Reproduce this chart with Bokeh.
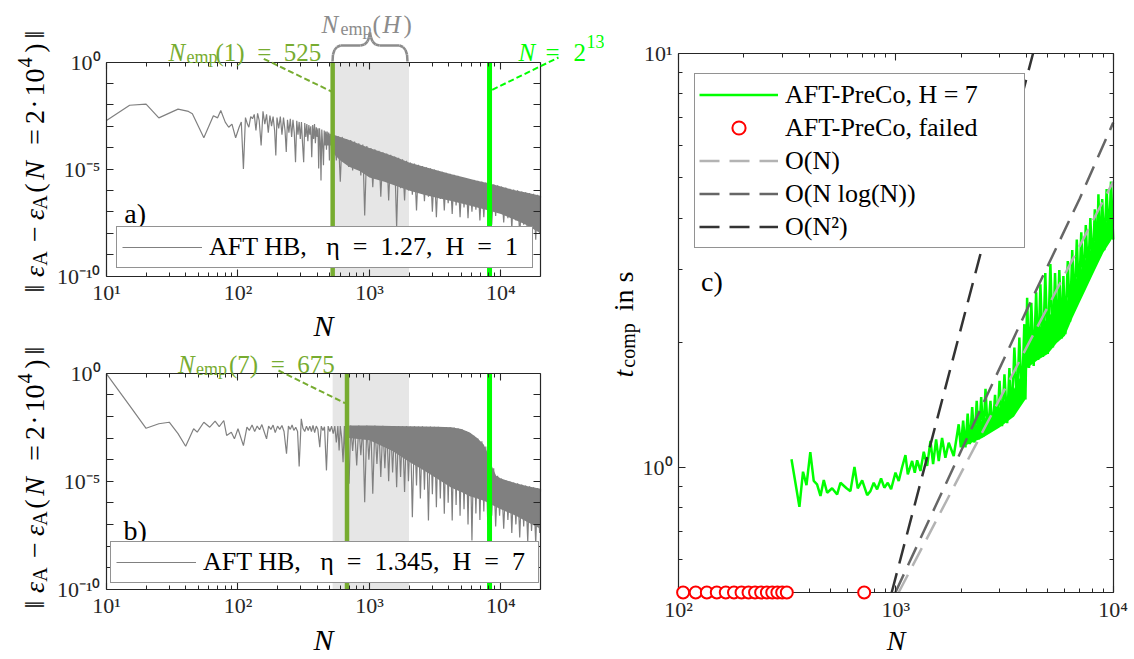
import math
from bokeh.plotting import figure
from bokeh.models import (Range1d, LogAxis, FixedTicker, CustomJSTickFormatter, Label,
                          BoxAnnotation, Arrow, Legend, LegendItem, ColumnDataSource)
from bokeh.layouts import row, column
from bokeh.embed import file_html
from bokeh.resources import INLINE

# ---------------------------------------------------------------- data
# panel a) : AFT HB, eta = 1.27, H = 1   (values given as log10 of the error)
a_N = [10, 15, 20, 25, 35, 42, 45, 55, 65, 70, 74, 80, 85, 90, 96, 102, 106, 110, 114, 118,
       121, 125, 129, 133, 137, 141, 145,
       150, 155, 160, 165, 170, 175, 180, 185, 190, 194, 198, 204, 210, 216, 222, 228, 233, 238,
       244, 250, 256, 262, 268, 274, 280, 286, 292, 298, 304, 310, 316, 322, 328, 334, 340, 346,
       352, 358, 364, 370, 376, 382, 388, 394, 400, 406, 411, 417, 423, 428, 434, 440, 447, 453,
       459, 465, 471, 477, 483, 490, 496, 502, 508, 514,
       520, 540, 560, 580, 600, 620, 645, 670, 695, 720, 745, 770, 800, 830, 860, 890, 920, 955,
       990, 1025, 1060, 1100, 1140, 1180, 1220, 1265, 1310, 1355, 1400, 1450, 1500, 1555, 1610,
       1665, 1725, 1785, 1850, 1915, 1980, 2050, 2120, 2200, 2280, 2360, 2440, 2530, 2620, 2710,
       2810, 2910, 3010, 3120, 3230, 3340, 3460, 3580, 3710, 3840, 3970, 4110, 4260, 4410, 4560,
       4720, 4890, 5060, 5240, 5430, 5620, 5820, 6020, 6230, 6450, 6680, 6920, 7160, 7410, 7670,
       7940, 8220, 8510, 8810, 9120, 9440, 9770, 10100, 10500, 10900, 11300, 11700, 12100, 12500,
       13000, 13400, 13900, 14400, 14900, 15400, 16000, 16500, 17100, 17700, 18400, 19000, 19700,
       20000]
a_logerr = [-2.73, -2.02, -1.97, -2.61, -2.2, -2.31, -2.42, -3.54, -2.51, -2.61, -2.27, -2.81,
            -3.05, -2.9, -3.54, -3.05, -2.8, -5.0, -2.6, -2.9, -3.05, -2.55, -2.65, -2.45, -3.2,
            -2.4, -2.73,
            -3.9, -2.3, -2.9, -2.45, -3.3, -2.5, -3.0, -2.55, -3.2, -4.37, -2.6, -3.1, -2.55, -3.4,
            -2.6, -3.2, -4.2, -2.7, -3.3, -2.65, -3.5, -2.7, -3.3, -4.68, -2.75, -3.4, -2.8, -3.6,
            -2.8, -3.85, -4.68, -2.85, -3.5, -2.9, -3.7, -2.95, -3.4, -3.0, -4.45, -2.95, -3.6,
            -2.9, -3.8, -3.05, -3.5, -3.1, -4.98, -3.1, -3.7, -5.54, -3.15, -3.8, -4.82, -3.2,
            -3.9, -3.25, -4.1, -3.25, -3.9, -3.3, -4.6, -3.35, -3.9, -3.35,
            -4.2, -3.42, -4.6, -3.47, -5.6, -3.5, -4.4, -3.6, -4.9, -3.65, -5.07, -3.72, -4.6,
            -3.8, -5.3, -3.86, -7.17, -3.93, -5.2, -4.02, -5.85, -4.08, -5.3, -4.15, -6.3, -4.22,
            -5.5, -4.28, -6.47, -4.34, -5.7, -4.42, -7.72, -4.48, -5.9, -4.55, -6.47, -4.62, -6.0,
            -4.7, -6.2, -4.75, -6.94, -4.8, -6.1, -4.86, -6.5, -4.92, -6.3, -4.97, -7.0, -5.02,
            -7.25, -5.08, -6.4, -5.13, -6.94, -5.18, -6.6, -5.22, -7.1, -5.27, -6.7, -5.32, -7.25,
            -5.37, -6.8, -5.42, -7.3, -5.47, -7.0, -5.51, -6.9, -5.55, -7.4, -5.59, -7.25, -5.63,
            -7.0, -5.68, -7.6, -5.72, -7.2, -5.76, -6.94, -5.82, -7.5, -5.87, -7.3, -5.92, -7.8,
            -5.96, -7.4, -6.0, -8.2, -6.05, -7.6, -6.09, -8.5, -6.12, -7.8, -6.16, -8.3, -6.2,
            -8.0, -6.25]
a_band_N = [520, 600, 700, 850, 1000, 1300, 1600, 2000, 2600, 3300, 4200, 5300, 6600, 8200,
            10000, 12500, 15500, 20000]
a_band_hi = [-3.38, -3.5, -3.65, -3.85, -4.02, -4.25, -4.45, -4.7, -4.9, -5.07, -5.25, -5.4,
             -5.55, -5.68, -5.82, -5.98, -6.1, -6.25]
a_band_lo = [-4.2, -4.6, -4.9, -5.1, -5.4, -5.6, -5.8, -6.0, -6.2, -6.35, -6.5, -6.65, -6.8,
             -6.95, -7.1, -7.35, -7.6, -8.0]

# panel b) : AFT HB, eta = 1.345, H = 7
b_N = [10, 15, 20, 25, 30, 35, 40, 46, 49, 55, 61, 67, 72, 78, 82, 89, 94, 100, 110, 117, 122,
       128, 134, 140, 146, 152, 158, 165, 171, 178, 185, 192, 200, 208, 216, 224, 234, 242, 250,
       258, 266, 275, 284, 292, 303, 312, 322, 332, 342, 352, 362, 372, 383, 394, 405, 419, 430,
       443, 455, 471, 485, 500, 515, 530, 545, 560, 575, 588, 600, 615, 630, 645, 660, 675, 700,
       720, 745, 770, 800, 830, 860, 890, 920, 955, 990, 1025, 1060, 1100, 1140, 1180, 1220, 1265,
       1310, 1355, 1400, 1450, 1500, 1555, 1610, 1665, 1725, 1785, 1850, 1915, 1980, 2050, 2120,
       2200, 2280, 2360, 2440, 2530, 2620, 2710, 2810, 2910, 3010, 3120, 3230, 3340, 3460, 3580,
       3710, 3840, 3970, 4110, 4260, 4410, 4560, 4720, 4890, 5060, 5240, 5430, 5620, 5820, 6020,
       6230, 6450, 6680, 6920, 7160, 7410, 7670, 7940, 8220, 8510, 8810, 9120, 9440, 9770, 10100,
       10500, 10900, 11300, 11700, 12100, 12500, 13000, 13400, 13900, 14400, 14900, 15400, 16000,
       16500, 17100, 17700, 18400, 19000, 19700, 20000]
b_logerr = [-0.03, -1.5, -2.55, -2.34, -2.27, -2.8, -3.38, -2.57, -2.73, -2.27, -2.5, -2.22,
            -2.47, -2.19, -2.88, -2.73, -3.04, -2.57, -3.35, -2.5, -2.65, -2.4, -2.7, -2.45,
            -2.62, -2.38, -2.7, -3.04, -2.45, -2.6, -2.4, -2.75, -2.45, -2.6, -2.42, -2.7, -3.73,
            -2.45, -2.6, -2.4, -2.65, -2.5, -2.7, -4.32, -2.11, -2.55, -2.7, -2.45, -2.65, -2.45,
            -2.7, -2.42, -2.75, -2.45, -2.6, -3.43, -2.45, -2.65, -2.48, -4.5, -2.45, -2.7, -2.45,
            -2.8, -2.45, -3.2, -2.45, -3.58, -2.45, -3.0, -4.12, -2.45, -4.27, -2.5, -5.12,
            -2.42, -3.6, -2.45, -4.27, -2.42, -3.8, -2.45, -5.97, -2.42, -4.0, -2.45, -5.58, -2.42,
            -4.2, -2.45, -4.81, -2.43, -4.4, -2.45, -5.0, -2.44, -4.6, -2.46, -5.28, -2.45, -4.8,
            -2.46, -5.5, -2.45, -5.0, -2.47, -6.67, -2.46, -5.2, -2.47, -5.8, -2.46, -5.4, -2.48,
            -6.82, -2.47, -5.6, -2.48, -6.2, -2.48, -5.8, -2.49, -6.51, -2.49, -6.0, -2.5, -6.82,
            -2.52, -6.1, -2.55, -6.6, -2.6, -6.3, -2.68, -7.0, -2.78, -7.75, -2.9, -6.5, -3.02,
            -6.8, -3.15, -6.4, -3.4, -7.0, -3.8, -6.6, -4.4, -7.1, -4.75, -6.6, -4.88, -7.2, -4.96,
            -6.8, -5.01, -7.4, -5.06, -7.0, -5.1, -7.6, -5.15, -7.1, -5.2, -7.8, -5.24, -7.3,
            -5.28, -7.9, -5.32, -7.4, -5.35]
b_band_N = [700, 1000, 1500, 2000, 2600, 3300, 4200, 5000, 5800, 6600, 7400, 8000, 8600, 9200,
            10000, 13000, 16000, 20000]
b_band_hi = [-2.42, -2.42, -2.44, -2.46, -2.47, -2.48, -2.5, -2.58, -2.75, -3.0, -3.3, -3.75,
             -4.35, -4.75, -4.88, -5.1, -5.23, -5.35]
b_band_lo = [-3.0, -3.1, -3.6, -4.1, -4.5, -4.9, -5.3, -5.5, -5.7, -5.8, -5.9, -6.0, -6.1, -6.2,
             -6.3, -6.6, -6.9, -7.2]

N_EMP_1 = 525
N_EMP_7 = 675
N_REF = 8192            # 2^13
SHADE_N = [525, 2000]   # N_emp(H) range

# panel c) : computation time of AFT-PreCo, H = 7
c_N = [331, 360, 374, 388, 404, 419, 434, 450, 466, 483, 509, 537, 556, 593, 618, 645, 668, 700,
       738, 764, 791, 820, 855, 885, 918, 951, 996, 1031, 1069, 1107, 1135, 1188, 1222, 1253,
       1298, 1344, 1393, 1443, 1484, 1532, 1575, 1632, 1690, 1751, 1846, 1946,
       1990, 2040, 2090, 2140, 2190, 2245, 2300, 2355, 2410, 2470, 2530, 2585, 2650, 2724, 2790,
       2860, 2925, 3000, 3080, 3160, 3252, 3330, 3420, 3510, 3614, 3700, 3800, 3900, 3946, 4018,
       4100, 4200, 4307, 4420, 4520, 4624, 4750, 4870, 5000, 5140, 5280, 5400, 5517, 5650, 5800,
       5900, 6023, 6180, 6330, 6480, 6640, 6800, 6960, 7130, 7300, 7480, 7660, 7850, 8040, 8230,
       8430, 8550, 8700, 8900, 9100, 9330, 9550, 9770, 10000]
c_t = [1.048, 0.805, 0.978, 0.908, 1.091, 0.929, 0.912, 0.855, 0.934, 0.87, 0.892, 0.862, 0.92,
       0.892, 0.878, 1.004, 0.892, 0.932, 0.859, 0.878, 0.92, 0.887, 0.942, 0.895, 0.92, 0.887,
       0.973, 0.929, 1.004, 1.073, 0.964, 1.038, 0.973, 1.042, 0.982, 1.093, 1.01, 1.16, 1.02,
       1.17, 1.038, 1.18, 1.057, 1.149, 1.067, 1.273,
       1.12, 1.30, 1.12, 1.35, 1.14, 1.40, 1.15, 1.45, 1.17, 1.48, 1.19, 1.55, 1.21, 1.45, 1.23,
       1.50, 1.25, 1.62, 1.26, 1.68, 1.28, 1.74, 1.33, 1.95, 1.42, 2.06, 1.44, 2.22, 1.46, 2.57,
       1.74, 2.50, 1.76, 2.65, 1.82, 2.77, 1.85, 2.95, 1.88, 3.10, 1.95, 2.95, 2.02, 3.00, 2.05,
       2.90, 2.10, 3.15, 2.25, 3.35, 2.40, 3.55, 2.55, 3.70, 2.70, 3.85, 2.85, 4.00, 3.00, 4.20,
       3.15, 4.57, 3.25, 4.45, 3.35, 4.70, 3.50, 4.90, 3.55, 5.07]
c_band_N = [2000, 2500, 3000, 3500, 3946, 4018, 4500, 5000, 5500, 6000, 6500, 7000, 7500, 8000,
            8500, 9000, 9500, 10000]
c_band_lo = [1.12, 1.18, 1.25, 1.33, 1.46, 1.74, 1.82, 1.88, 2.0, 2.08, 2.3, 2.5, 2.7, 2.9,
             3.1, 3.3, 3.45, 3.6]
c_band_hi = [1.2, 1.3, 1.4, 1.55, 1.75, 2.05, 2.15, 2.3, 2.45, 2.45, 2.75, 2.95, 3.2, 3.4,
             3.7, 3.8, 4.0, 4.25]
failed_N = [105, 120, 135, 150, 165, 180, 195, 210, 225, 240, 255, 270, 285, 300, 315, 715]
failed_t = [0.5] * 16
ref_lin_N = [1030, 10000]
ref_lin_t = [0.5, 4.9]
ref_nlog_N = [995, 2000, 4000, 7000, 10000]
ref_nlog_t = [0.5, 1.10, 2.40, 4.45, 6.8]
ref_sq_N = [957, 4280]
ref_sq_t = [0.5, 10.0]

# ---------------------------------------------------------------- style
FONT = "Liberation Serif"
AX = "#262626"
GRAY = "#808080"
OLIVE = "#77ac30"
LIME = "#00ff00"
SHADE = "#e6e6e6"
BRACE = "#8c8c8c"
EN = "\u2002"

SUP_JS = """
const s = {"0":"\u2070","1":"\u00b9","2":"\u00b2","3":"\u00b3","4":"\u2074","5":"\u2075",
           "6":"\u2076","7":"\u2077","8":"\u2078","9":"\u2079","-":"\u207b"};
const e = Math.round(Math.log10(tick));
if (e % EVERY != 0) return "";
return "10" + String(e).split("").map(c => s[c]).join("");
"""


def style_axis(ax, ticks, minor, every, labels, standoff):
    ax.ticker = FixedTicker(ticks=ticks, minor_ticks=minor)
    if labels:
        ax.formatter = CustomJSTickFormatter(code=SUP_JS.replace("EVERY", str(every)))
    else:
        ax.formatter = CustomJSTickFormatter(code='return "";')
    ax.major_tick_in = 7
    ax.major_tick_out = 0
    ax.minor_tick_in = 4
    ax.minor_tick_out = 0
    ax.axis_line_color = AX
    ax.axis_line_width = 1.2
    ax.major_tick_line_color = AX
    ax.minor_tick_line_color = AX
    ax.major_tick_line_width = 1.1
    ax.minor_tick_line_width = 1.0
    ax.major_label_text_font = FONT
    ax.major_label_text_font_size = "22px"
    ax.major_label_text_color = AX
    ax.major_label_standoff = standoff
    ax.axis_label = None


def make_panel(canvas, box, xr, yr, xt, xm, yt, ym, every, xlabel_size, xlabel_standoff):
    """canvas = (x0, y0, w, h) in page px; box = axes box (x0, y0, x1, y1) in page px.
    The frame covers the whole canvas; the axes are drawn at the box edges."""
    cx0, cy0, W, H = canvas
    bx0, by0, bx1, by1 = box
    lx0, lx1 = math.log10(xr[0]), math.log10(xr[1])
    ly0, ly1 = math.log10(yr[0]), math.log10(yr[1])
    ppx = (bx1 - bx0) / (lx1 - lx0)
    ppy = (by1 - by0) / (ly1 - ly0)
    frx = (10 ** (lx0 - (bx0 - cx0) / ppx), 10 ** (lx1 + (cx0 + W - bx1) / ppx))
    fry = (10 ** (ly0 - (cy0 + H - by1) / ppy), 10 ** (ly1 + (by0 - cy0) / ppy))
    p = figure(x_axis_type="log", y_axis_type="log", x_range=Range1d(*frx), y_range=Range1d(*fry),
               frame_width=W, frame_height=H, width=W, height=H, min_border=0,
               min_border_left=0, min_border_right=0, min_border_top=0, min_border_bottom=0,
               title=None, output_backend="svg", toolbar_location=None)
    p.xgrid.visible = False
    p.ygrid.visible = False
    p.background_fill_color = "white"
    p.border_fill_color = "white"
    p.outline_line_color = None
    bottom = p.xaxis[0]
    style_axis(bottom, xt, xm, 1, True, 4)
    bottom.fixed_location = yr[0]
    bottom.bounds = xr
    bottom.axis_label = "N"
    bottom.axis_label_text_font = FONT
    bottom.axis_label_text_font_style = "italic"
    bottom.axis_label_text_font_size = f"{xlabel_size}px"
    bottom.axis_label_text_color = "black"
    bottom.axis_label_standoff = xlabel_standoff
    left = p.yaxis[0]
    style_axis(left, yt, ym, every, True, 6)
    left.fixed_location = xr[0]
    left.bounds = yr
    top = LogAxis(fixed_location=yr[1], bounds=xr)
    style_axis(top, xt, xm, 1, False, 0)
    p.add_layout(top, "above")
    right = LogAxis(fixed_location=xr[1], bounds=yr)
    style_axis(right, yt, ym, 1, False, 0)
    p.add_layout(right, "right")

    def conv(px, py):
        return (10 ** (lx0 + (px - bx0) / ppx), 10 ** (ly1 - (py - by0) / ppy))
    return p, conv


def put(p, conv, px, py, text, size, color=AX, italic=False, angle=0.0, align="center"):
    x, y = conv(px, py)
    p.add_layout(Label(x=x, y=y, text=text, text_font=FONT, text_font_size=f"{size}px",
                       text_font_style="italic" if italic else "normal", text_color=color,
                       text_align=align, text_baseline="alphabetic", angle=angle))


def leader(p, conv, p0, p1, color):
    x0, y0 = conv(*p0)
    x1, y1 = conv(*p1)
    p.add_layout(Arrow(end=None, x_start=x0, y_start=y0, x_end=x1, y_end=y1, line_color=color,
                       line_width=2, line_dash="6 3"))


X_AB = [10, 100, 1000, 10000]
XM_AB = [m * d for d in (10, 100, 1000) for m in range(2, 10)]
Y_AB = [10.0 ** e for e in range(-10, 1)]
X_C = [100, 1000, 10000]
XM_C = [m * d for d in (100, 1000) for m in range(2, 10)]
Y_C = [1, 10]
YM_C = [0.5, 0.6, 0.7, 0.8, 0.9, 2, 3, 4, 5, 6, 7, 8, 9]

# y-label pieces for a) / b): (text, center y, baseline x, size, italic)
YLAB = [("\u2016", 288, 34, 28, False), ("\u03b5", 271, 34, 28, True), ("A", 258, 39, 20, False),
        ("\u2212", 233.5, 34, 28, False), ("\u03b5", 214, 34, 28, True), ("A", 202, 39, 20, False),
        ("(", 187.5, 34, 28, False), ("N", 170, 34, 28, True), ("=", 136.5, 34, 28, False),
        ("2", 116.5, 34, 28, False), ("\u00b7", 103.5, 34, 28, False), ("10", 82, 34, 28, False),
        ("4", 62, 24, 20, False), (")", 47.5, 34, 28, False), ("\u2016", 34, 34, 28, False)]


def error_panel(canvas, box, pN, plog, bN, bhi, blo, n_emp, legend_label, legend_loc, legend_lw,
                xl_standoff):
    p, conv = make_panel(canvas, box, (10, 2e4), (1e-10, 1), X_AB, XM_AB, Y_AB, [], 5,
                         30, xl_standoff)
    p.add_layout(BoxAnnotation(left=SHADE_N[0], right=SHADE_N[1], bottom=1e-10, top=1,
                               fill_color=SHADE, fill_alpha=1, line_alpha=0, level="underlay"))
    p.varea(x=bN, y1=[10 ** v for v in blo], y2=[10 ** v for v in bhi], fill_color=GRAY)
    r = p.line(pN, [10 ** v for v in plog], line_color=GRAY, line_width=1.2)
    p.segment(x0=[n_emp, N_REF], y0=[1e-10, 1e-10], x1=[n_emp, N_REF], y1=[1, 1],
              line_color=[OLIVE, LIME], line_width=[4.5, 5])
    leg = Legend(items=[LegendItem(label=legend_label, renderers=[r])], location=legend_loc,
                 label_text_font=FONT, label_text_font_size="26px", label_text_color="black",
                 border_line_color=AX, border_line_width=1.2, background_fill_alpha=1,
                 glyph_width=80, glyph_height=30, label_height=30, label_width=legend_lw,
                 label_standoff=7, padding=5, margin=0, spacing=0)
    p.add_layout(leg)
    return p, conv


# ---------------------------------------------------------------- panel a
pa, ca = error_panel((0, 0, 604, 342), (106, 61.5, 540, 275.5), a_N, a_logerr, a_band_N,
                     a_band_hi, a_band_lo, N_EMP_1,
                     f"AFT HB,   \u03b7{EN}={EN}1.27,  H{EN}={EN}1", (116, 74), 318, 0)
for t, cy, bx, s, it in YLAB:
    put(pa, ca, bx, cy, t, s, "black", it, math.pi / 2)
for t, lx, by, s, it, col in [
        ("N", 168, 51.5, 25, True, OLIVE), ("emp", 186, 56, 18, False, OLIVE),
        (f"(1){EN}={EN}525", 215, 51.5, 25, False, OLIVE),
        ("N", 321, 23.5, 25, True, BRACE), ("emp", 340, 28, 18, False, BRACE),
        ("(", 372, 23.5, 25, False, BRACE), ("H", 382, 23.5, 25, True, BRACE),
        (")", 403, 23.5, 25, False, BRACE),
        ("N", 518, 52, 25, True, LIME), ("=", 545, 52, 25, False, LIME),
        ("2", 573, 52, 25, False, LIME), ("13", 586, 41, 18, False, LIME)]:
    put(pa, ca, lx, by, t, s, col, it, align="left")
put(pa, ca, 134.7, 213, "a)", 28, "black")
leader(pa, ca, (263.3, 58.3), (331, 91), OLIVE)
leader(pa, ca, (491.7, 89.3), (558, 57), LIME)
brace_px = [(332, 61), (332.5, 54), (334, 49.5), (336.5, 46.5), (340, 45), (360, 45), (364, 44),
            (367, 41), (368.5, 37), (369.5, 32), (370.5, 37), (372, 41), (375, 44), (379, 45),
            (399, 45), (402.5, 46.5), (405, 49.5), (406.5, 54), (407, 61)]
bpts = [ca(*q) for q in brace_px]
bsrc = ColumnDataSource(dict(x0=[q[0] for q in bpts[:-1]], y0=[q[1] for q in bpts[:-1]],
                             x1=[q[0] for q in bpts[1:]], y1=[q[1] for q in bpts[1:]]))
pa.add_layout(Arrow(end=None, source=bsrc, x_start="x0", y_start="y0", x_end="x1", y_end="y1",
                    line_color=BRACE, line_width=2.5))

# ---------------------------------------------------------------- panel b
pb, cb = error_panel((0, 342, 604, 315), (106, 372.7, 540, 588.7), b_N, b_logerr, b_band_N,
                     b_band_hi, b_band_lo, N_EMP_7,
                     f"AFT HB,   \u03b7{EN}={EN}1.345,  H{EN}={EN}7", (110, 74), 330, 1)
for t, cy, bx, s, it in YLAB:
    put(pb, cb, bx, cy + 316, t, s, "black", it, math.pi / 2)
for t, lx, by, s, it, col in [
        ("N", 177.5, 364, 25, True, OLIVE), ("emp", 195.5, 368.5, 18, False, OLIVE),
        (f"(7){EN}={EN}675", 228.5, 364, 25, False, OLIVE)]:
    put(pb, cb, lx, by, t, s, col, it, align="left")
put(pb, cb, 134.7, 530, "b)", 28, "black")
leader(pb, cb, (278, 370), (344.6, 402.7), OLIVE)

# ---------------------------------------------------------------- panel c
pc, cc = make_panel((604, 0, 528, 657), (678, 52.7, 1112.7, 592), (100, 1e4), (0.5, 10),
                    X_C, XM_C, Y_C, YM_C, 1, 28, 0)
pc.varea(x=c_band_N, y1=c_band_lo, y2=c_band_hi, fill_color=LIME)
rg = pc.line(c_N, c_t, line_color=LIME, line_width=2.5)
r1 = pc.line(ref_lin_N, ref_lin_t, line_color="#b3b3b3", line_width=2.5, line_dash="20 10")
r2 = pc.line(ref_nlog_N, ref_nlog_t, line_color="#666666", line_width=2.5, line_dash="20 10")
r3 = pc.line(ref_sq_N, ref_sq_t, line_color="#333333", line_width=2.5, line_dash="20 10")
rf = pc.scatter(failed_N, failed_t, size=12, marker="circle", line_color="red",
                fill_color="white", line_width=2, level="overlay")
legc = Legend(items=[LegendItem(label="AFT-PreCo, H = 7", renderers=[rg]),
                     LegendItem(label="AFT-PreCo, failed", renderers=[rf]),
                     LegendItem(label="O(N)", renderers=[r1]),
                     LegendItem(label="O(N log(N))", renderers=[r2]),
                     LegendItem(label="O(N\u00b2)", renderers=[r3])],
              location=(90, 409), label_text_font=FONT, label_text_font_size="26px",
              label_text_color="black", border_line_color=AX, border_line_width=1.2,
              background_fill_alpha=1, glyph_width=79, glyph_height=33, label_height=33,
              label_width=235, label_standoff=7, padding=4, margin=0, spacing=0)
pc.add_layout(legc)
for t, cy, bx, s, it in [("t", 373, 623, 28, True), ("comp", 345, 627, 20, False),
                         ("in s", 291, 623, 28, False)]:
    put(pc, cc, bx, cy, t, s, "black", it, math.pi / 2)
put(pc, cc, 711.5, 281, "c)", 28, "black")

layout = row(column(pa, pb), pc)
open("out.html", "w").write(file_html(layout, INLINE))
